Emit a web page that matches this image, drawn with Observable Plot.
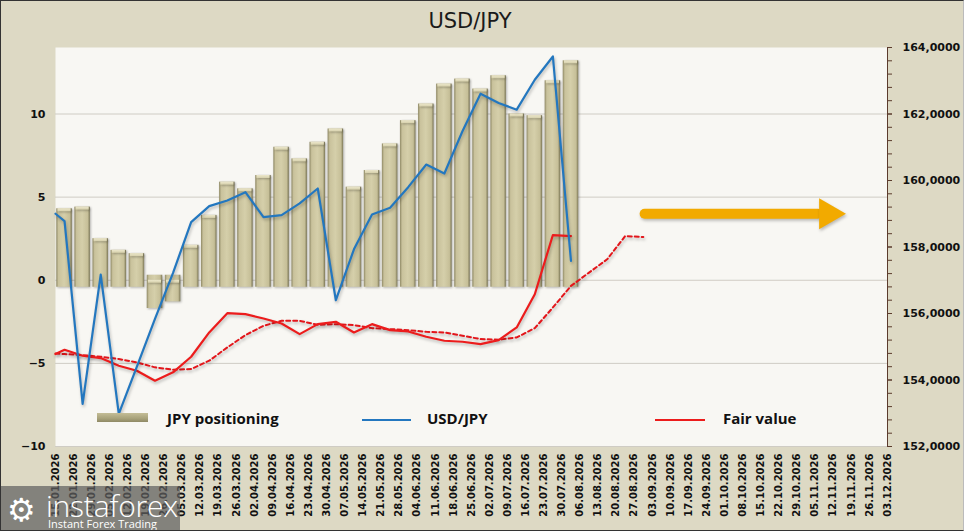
<!DOCTYPE html>
<html>
<head>
<meta charset="utf-8">
<script src="https://cdn.jsdelivr.net/npm/d3@7"></script>
<script src="https://cdn.jsdelivr.net/npm/@observablehq/plot@0.6"></script>
<style>
  body { margin: 0; background: #fff; }
  #wrap { position: relative; width: 964px; height: 531px; background: #ddd9c4; overflow: hidden; }
  #wrap svg { position: absolute; left: 0; top: 0; }
  .title { position: absolute; left: 0; width: 940px; top: 9px; text-align: center;
    font: 21px "DejaVu Sans", sans-serif; color: #1a1a1a; }
  .lg { position: absolute; font: 700 15px "Open Sans", sans-serif; line-height: 1; color: #111; }
  .sw { position: absolute; }
  .wm { position: absolute; left: 0; top: 486px; width: 180px; height: 45px; background: rgba(95,95,95,0.72); color: #fff; }
  .wm span { position: absolute; line-height: 1; white-space: nowrap; }
  .wm .big { left: 46px; top: -1px; font: 300 30px "Open Sans", sans-serif; letter-spacing: -0.2px; }
  .wm .small { left: 48px; top: 30px; font: 11px "Open Sans", sans-serif; }
  .wm .gear { left: 7px; top: 5px; font: 32px "DejaVu Sans", sans-serif; }
  .border { position: absolute; inset: 0; border: 1px solid #333; border-right-color: #bbb; pointer-events: none; }
</style>
</head>
<body>
<div id="wrap"></div>
<script>
// weekly data, first week starts 15.01.2026
const parseDay = d3.utcParse("%d.%m.%Y");
const firstWeek = parseDay("15.01.2026");
const lastTick = parseDay("03.12.2026");

// JPY positioning (bars, left axis), one per week
const positioning = [4.3, 4.4, 2.5, 1.8, 1.6, -1.7, -1.3, 2.1, 3.9, 5.9, 5.5, 6.3, 8.0, 7.3, 8.3,
  9.1, 5.6, 6.6, 8.2, 9.6, 10.6, 11.8, 12.1, 11.5, 12.3, 10.0, 9.9, 12.0, 13.2];

// USD/JPY (right axis): first value at 15.01, then one per week
const usdJpy = [159.0, 158.78, 153.28, 157.17, 152.98, 154.4, 155.84, 157.22, 158.75, 159.23, 159.4,
  159.65, 158.9, 158.96, 159.31, 159.76, 156.4, 157.93, 158.98, 159.18, 159.8, 160.48, 160.21,
  161.48, 162.61, 162.33, 162.13, 163.03, 163.73, 157.58];

// Fair value (right axis), same layout
const fairValue = [154.78, 154.91, 154.73, 154.66, 154.43, 154.28, 153.98, 154.23, 154.7, 155.43,
  156.01, 155.98, 155.85, 155.7, 155.38, 155.68, 155.75, 155.43, 155.68, 155.5, 155.46, 155.3,
  155.18, 155.15, 155.08, 155.2, 155.58, 156.58, 158.36, 158.33];

// Fair value trend (dashed), runs 4 weeks further
const fairTrend = [154.8, 154.78, 154.75, 154.7, 154.63, 154.53, 154.38, 154.31, 154.33, 154.58,
  154.98, 155.35, 155.63, 155.78, 155.78, 155.66, 155.68, 155.65, 155.56, 155.53, 155.5, 155.45,
  155.43, 155.33, 155.23, 155.21, 155.28, 155.56, 156.18, 156.83, 157.23, 157.63, 158.33, 158.3];

// orange arrow annotation (dates + level on right axis)
const arrowFrom = parseDay("31.08.2026");
const arrowTo = parseDay("06.11.2026");
const arrowHead = parseDay("10.11.2026");
const arrowLevel = 159.0;

const leftTicks = [-10, -5, 0, 5, 10];
const rightTicks = [152, 154, 156, 158, 160, 162, 164];

// right axis 152..164 maps onto left axis -10..14
const toLeft = r => (r - 152) * 2 - 10;
const fromLeft = v => (v + 10) / 2 + 152;

const week = i => d3.utcDay.offset(firstWeek, 7 * i);
const mid = i => new Date(+week(i) + 3.5 * 864e5);
const weekTicks = d3.utcDay.range(firstWeek, d3.utcDay.offset(lastTick, 1), 7);

const bars = positioning.map((v, i) => ({x1: week(i), x2: week(i + 1), v}));
const series = vals => vals.map((r, i) => ({x: i === 0 ? firstWeek : mid(i - 1), y: toLeft(r)}));

const chart = Plot.plot({
  width: 964,
  height: 531,
  marginTop: 47,
  marginLeft: 55,
  marginRight: 77,
  marginBottom: 85,
  style: {background: "transparent", fontFamily: "DejaVu Sans", fontWeight: "bold", fontSize: "11px", color: "#111"},
  x: {type: "utc", domain: [firstWeek, lastTick]},
  y: {domain: [-10, 14]},
  marks: [
    Plot.frame({fill: "#f8f7f3", stroke: null}),
    Plot.gridY(leftTicks, {stroke: "#cfccc4", strokeOpacity: 1}),
    Plot.rect(bars.filter(d => d.v >= 0), {x1: "x1", x2: "x2", y1: 0, y2: "v", fill: "url(#barGrad)",
      insetLeft: 1.3, insetRight: 1.3, insetBottom: -7}),
    Plot.rect(bars.filter(d => d.v < 0), {x1: "x1", x2: "x2", y1: 0, y2: "v", fill: "url(#barGrad)",
      insetLeft: 1.3, insetRight: 1.3, insetTop: -5}),
    // bevel highlight on top of bars
    Plot.rect(bars, {x1: "x1", x2: "x2", y1: d => d.v >= 0 ? d.v : 0, y2: d => d.v >= 0 ? d.v : 0,
      fill: "url(#capGrad)", insetLeft: 2.5, insetRight: 2.5, insetBottom: -3}),
    Plot.axisY({ticks: leftTicks, tickSize: 0, tickPadding: 10}),
    Plot.axisY({anchor: "right", ticks: d3.range(152, 164.01, 0.4).map(toLeft), tickSize: 4, tickFormat: () => "", stroke: "#5b3b2c"}),
    Plot.axisY({anchor: "right", ticks: rightTicks.map(toLeft), tickSize: 4, tickPadding: 11,
      tickFormat: v => fromLeft(v).toFixed(4).replace(".", ","), stroke: "#5b3b2c"}),
    Plot.frame({anchor: "right", stroke: "#5b3b2c"}),
    Plot.axisX({ticks: weekTicks, tickFormat: d3.utcFormat("%d.%m.%Y"), tickRotate: -90, tickSize: 0,
      tickPadding: 7, fontSize: 10}),
    Plot.line(series(fairTrend), {x: "x", y: "y", stroke: "#e3161b", strokeWidth: 2, strokeDasharray: "4,3"}),
    Plot.line(series(fairValue), {x: "x", y: "y", stroke: "#ec1c1c", strokeWidth: 2.2}),
    Plot.line(series(usdJpy), {x: "x", y: "y", stroke: "#2377bf", strokeWidth: 2.2}),
    Plot.line([{x: arrowFrom, y: toLeft(arrowLevel)}, {x: arrowTo, y: toLeft(arrowLevel)}],
      {x: "x", y: "y", stroke: "#f2aa00", strokeWidth: 10, strokeLinecap: "round"}),
    Plot.dot([{x: arrowHead, y: toLeft(arrowLevel)}], {x: "x", y: "y", symbol: "triangle", rotate: 90,
      r: 11.5, fill: "#f2aa00", stroke: null})
  ]
});

d3.select(chart).insert("defs", ":first-child").html(`
  <linearGradient id="barGrad" x1="0" x2="1" y1="0" y2="0">
    <stop offset="0" stop-color="#8f8965"/>
    <stop offset="0.14" stop-color="#c9c29c"/>
    <stop offset="0.5" stop-color="#d5cfaa"/>
    <stop offset="0.86" stop-color="#c6bf98"/>
    <stop offset="1" stop-color="#7b7655"/>
  </linearGradient>
  <linearGradient id="capGrad" x1="0" x2="0" y1="0" y2="1">
    <stop offset="0" stop-color="#ece7cc"/>
    <stop offset="1" stop-color="#d6d0ab"/>
  </linearGradient>`);
d3.select(chart).selectAll('g[aria-label="rect"]').style("filter", "drop-shadow(1.5px 1.5px 1px rgba(0,0,0,0.28))");
d3.select(chart).selectAll('g[aria-label="line"], g[aria-label="dot"]').style("filter", "drop-shadow(1px 2px 1.5px rgba(0,0,0,0.25))");

const wrap = document.getElementById("wrap");
wrap.append(chart);
wrap.insertAdjacentHTML("beforeend", `
  <div class="title">USD/JPY</div>
  <div class="sw" style="left:97px;top:413px;width:51px;height:9px;background:linear-gradient(#c4bd96,#a8a27a 60%,#8f8965);"></div>
  <div class="lg" style="left:167px;top:411px;">JPY positioning</div>
  <div class="sw" style="left:362px;top:419px;width:49px;height:2px;background:#2377bf;"></div>
  <div class="lg" style="left:427px;top:411px;">USD/JPY</div>
  <div class="sw" style="left:655px;top:419px;width:50px;height:2px;background:#ec1c1c;"></div>
  <div class="lg" style="left:723px;top:411px;">Fair value</div>
  <div class="wm"><span class="gear">⚙</span><span class="big">instaforex</span><span class="small">Instant Forex Trading</span></div>
  <div class="border"></div>`);
</script>
</body>
</html>
